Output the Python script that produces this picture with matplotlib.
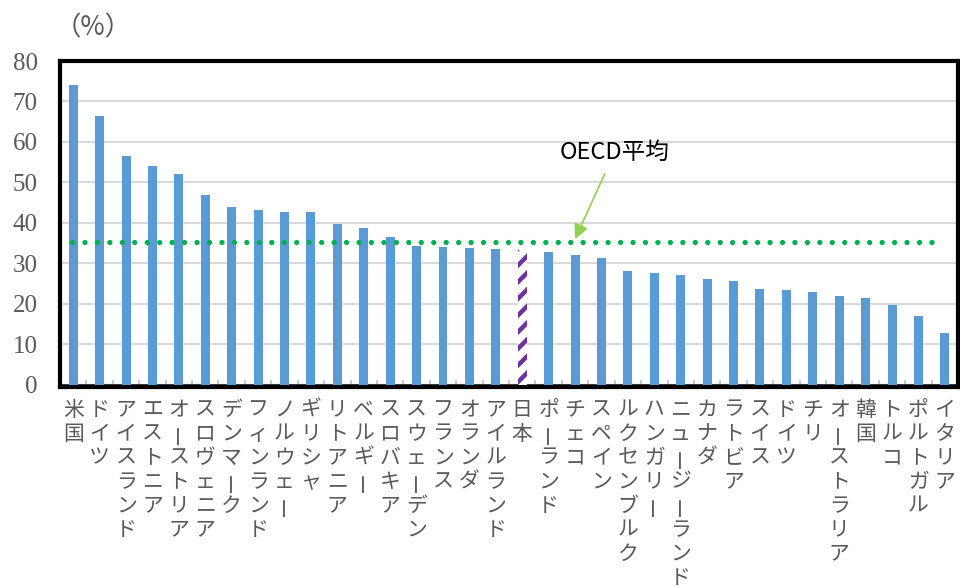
import matplotlib
matplotlib.use("Agg")
import matplotlib.pyplot as plt
import numpy as np

# country names (top -> bottom reading order, written vertically under each bar)
countries = [
   "米国", "ドイツ", "アイスランド", "エストニア", "オーストリア", "スロヴェニア",
   "デンマーク", "フィンランド", "ノルウェー", "ギリシャ", "リトアニア", "ベルギー",
   "スロバキア", "スウェーデン", "フランス", "オランダ", "アイルランド", "日本",
   "ポーランド", "チェコ", "スペイン", "ルクセンブルク", "ハンガリー", "ニュージーランド",
   "カナダ", "ラトビア", "スイス", "ドイツ", "チリ", "オーストラリア", "韓国",
   "トルコ", "ポルトガル", "イタリア",
]
values = [
   74.0, 66.5, 56.6, 54.0, 52.0, 46.8, 44.0, 43.1, 42.7, 42.6, 39.6, 38.7,
   36.5, 34.2, 34.1, 33.8, 33.6, 33.4, 32.7, 32.0, 31.2, 28.1, 27.5, 27.2,
   26.2, 25.6, 23.6, 23.5, 22.8, 22.0, 21.5, 19.6, 16.9, 12.8,
]
oecd_avg = 35.3
highlight = "日本"
y_ticks = [0, 10, 20, 30, 40, 50, 60, 70, 80]

BLUE = "#5B9BD5"
PURPLE = "#7030A0"
GREEN = "#00B050"
ARROW_GREEN = "#92D050"
GRAY_TXT = "#595959"
JP_FONT = ["Noto Sans CJK JP", "DejaVu Sans"]


def main():
   plt.rcParams["hatch.linewidth"] = 3.2
   fig = plt.figure(figsize=(9.6, 5.87), dpi=100)
   ax = fig.add_axes([0.0625, 0.3407, 0.9355, 0.5553])

   x = np.arange(len(countries))
   for i, (c, v) in enumerate(zip(countries, values)):
      if c == highlight:
         ax.bar(i, v, width=0.34, color="white", edgecolor=PURPLE,
                hatch="//", linewidth=0, zorder=3)
      else:
         ax.bar(i, v, width=0.34, color=BLUE, linewidth=0, zorder=3)

   # OECD average dotted line
   ax.plot([x[0] - 0.05, x[-1] - 0.15], [oecd_avg, oecd_avg], color=GREEN,
           linewidth=3.8, linestyle=(0, (0.01, 2.35)), dash_capstyle="round",
           zorder=4)

   ax.annotate("OECD平均", xy=(19.0, oecd_avg + 0.7), xytext=(20.5, 57.5),
               fontsize=17, family=JP_FONT, color="black", ha="center", va="center",
               arrowprops=dict(arrowstyle="-|>", color=ARROW_GREEN, lw=1.2,
                               mutation_scale=22, shrinkA=6, shrinkB=0),
               zorder=5)

   ax.set_xlim(-0.5, len(countries) - 0.5)
   ax.set_ylim(-0.6, 80)
   ax.set_yticks(y_ticks)
   ax.set_yticklabels([str(t) for t in y_ticks], fontsize=18,
                      family="Liberation Serif", color=GRAY_TXT)
   ax.tick_params(axis="y", length=0, pad=16)
   ax.set_xticks(x[:-1] + 0.5, minor=True)
   ax.set_xticks([])
   ax.tick_params(axis="x", which="minor", direction="in", length=5,
                  color="#BFBFBF", width=1.2)
   ax.grid(axis="y", color="#D9D9D9", linewidth=1.5, zorder=0)
   ax.axhline(0, color="#404040", linewidth=1.5, zorder=2)

   for s in ax.spines.values():
      s.set_color("black")
      s.set_linewidth(3)

   # vertical category labels, one character per line
   for i, name in enumerate(countries):
      for k, ch in enumerate(name):
         ax.annotate(ch, xy=(i, 0), xycoords=("data", "data"),
                     xytext=(0, -18 - k * 17.3), textcoords="offset points",
                     ha="center", va="center", fontsize=15, family=JP_FONT,
                     color=GRAY_TXT, rotation=(90 if ch == "ー" else 0),
                     annotation_clip=False)

   fig.text(0.097, 0.953, "（%）", fontsize=19, family=JP_FONT,
            color=GRAY_TXT, ha="center", va="center")

   fig.savefig("out.png", dpi=100)


if __name__ == "__main__":
   main()
